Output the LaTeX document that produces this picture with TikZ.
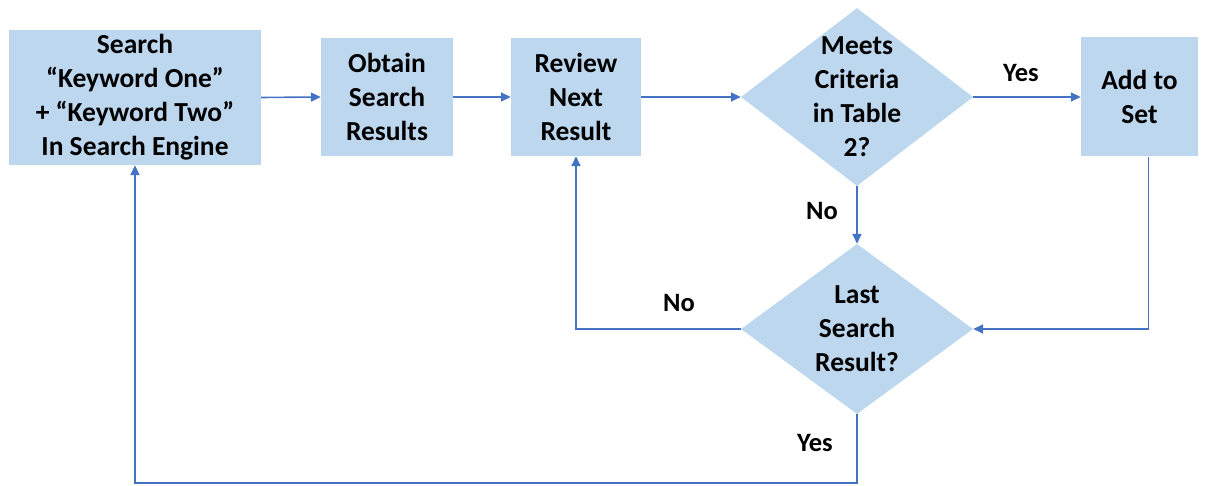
\documentclass[tikz,border=0pt]{standalone}
\usepackage{fontspec}
\setmainfont{Carlito}
\usetikzlibrary{shapes.geometric,arrows.meta}
\definecolor{boxfill}{HTML}{BDD7EE}
\definecolor{linkblue}{HTML}{4472C4}
\tikzset{
  x=1pt, y=1pt,
  every node/.style={font=\fontsize{27.5pt}{34pt}\selectfont\bfseries, align=center, inner sep=0pt},
  stepbox/.style={rectangle, fill=boxfill},
  decision/.style={diamond, fill=boxfill, aspect=1.3, inner sep=-20pt},
  link/.style={draw=linkblue, line width=1.6pt, -{Triangle[length=10pt,width=9pt]}},
  tag/.style={font=\fontsize{26.5pt}{32pt}\selectfont\bfseries}
}
\begin{document}
\begin{tikzpicture}
\useasboundingbox (0,0) rectangle (1208,485);
% process boxes
\node[stepbox, minimum width=252pt, minimum height=135pt] (search) at (135,387.5)
  {Search\\“Keyword One”\\+ “Keyword Two”\\In Search Engine};
\node[stepbox, minimum width=132pt, minimum height=118pt] (obtain) at (387,388)
  {Obtain\\Search\\Results};
\node[stepbox, minimum width=130pt, minimum height=118pt] (review) at (576,388)
  {Review\\Next\\Result};
\node[stepbox, minimum width=117pt, minimum height=119pt] (add) at (1139.5,388)
  {Add to\\Set};
% decisions
\node[decision, minimum width=232pt, minimum height=178pt] (meets) at (857,388)
  {Meets\\Criteria\\in Table\\2?};
\node[decision, minimum width=232pt, minimum height=170pt] (last) at (857,156)
  {Last\\Search\\Result?};
% routing points
\coordinate (addout) at ([xshift=9pt]add.south);
\coordinate (addturn) at (addout |- last.east);
\coordinate (noturn) at (review.south |- last.west);
\coordinate (yesturn) at (last.south |- 0,2);
\coordinate (backturn) at (search.south |- 0,2);
% connectors
\draw[link] (search.east) -- (obtain.west);
\draw[link] (obtain.east) -- (review.west);
\draw[link] (review.east) -- (meets.west);
\draw[link] (meets.east) -- (add.west);
\draw[link] (meets.south) -- (last.north);
\draw[link] (addout) -- (addturn) -- (last.east);
\draw[link] (last.west) -- (noturn) -- (review.south);
\draw[link] (last.south) -- (yesturn) -- (backturn) -- (search.south);
% branch labels
\node[tag] (lyes1) at (1021,412) {Yes};
\node[tag] (lno1) at (822,274) {No};
\node[tag] (lno2) at (679,182) {No};
\node[tag] (lyes2) at (815,42) {Yes};
\end{tikzpicture}
\end{document}
